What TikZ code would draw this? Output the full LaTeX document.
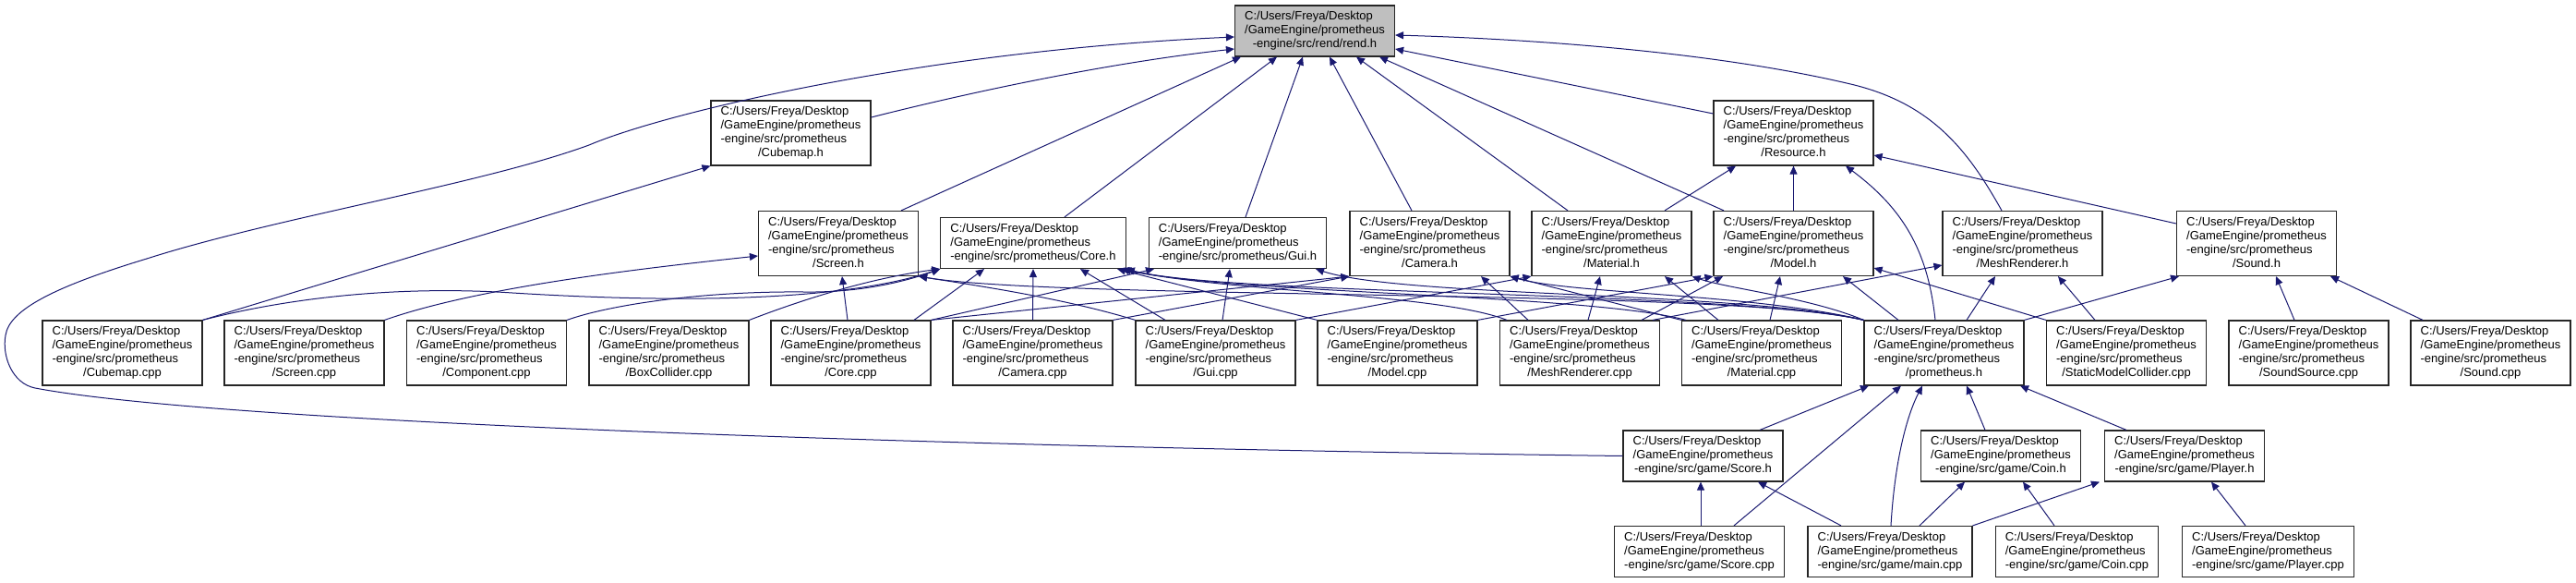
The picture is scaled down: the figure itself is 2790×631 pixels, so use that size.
\documentclass[tikz,border=0pt]{standalone}
\usepackage{fontspec}
\setmainfont{Liberation Sans}
\usetikzlibrary{arrows.meta}
\definecolor{edgeblue}{HTML}{191970}
\definecolor{rendgray}{HTML}{BFBFBF}
\newcommand{\pfour}[1]{\begin{tabular}{@{}l@{}}C:/Users/Freya/Desktop\\/GameEngine/prometheus\\-engine/src/prometheus\\\multicolumn{1}{@{}c@{}}{/#1}\end{tabular}}
\newcommand{\pthree}[1]{\begin{tabular}{@{}l@{}}C:/Users/Freya/Desktop\\/GameEngine/prometheus\\\multicolumn{1}{@{}c@{}}{-engine/src/#1}\end{tabular}}
\tikzset{
  filebox/.style={draw=black!85, line width=0.6pt, fill=white, inner xsep=5.3pt, inner ysep=2.5pt,
    font=\fontsize{6.5}{7.5}\selectfont},
  lnk/.style={draw=edgeblue, line width=0.5pt, -{Triangle[length=4.5pt,width=4pt]}}
}
\begin{document}
\begin{tikzpicture}[x=0.5pt, y=-0.5pt]
\useasboundingbox (0,0) rectangle (2790,631);
% row 1-2
\node[filebox, fill=rendgray] (rend) at (1424,33.5) {\pthree{rend/rend.h}};
\node[filebox] (cubeh) at (856.5,144) {\pfour{Cubemap.h}};
\node[filebox] (resh) at (1942.5,144) {\pfour{Resource.h}};
% row 3
\node[filebox] (screenh) at (908,263.5) {\pfour{Screen.h}};
\node[filebox] (coreh) at (1119,263) {\pthree{prometheus/Core.h}};
\node[filebox] (guih) at (1340.5,263) {\pthree{prometheus/Gui.h}};
\node[filebox] (camh) at (1548.5,263.5) {\pfour{Camera.h}};
\node[filebox] (matH) at (1745.5,263.5) {\pfour{Material.h}};
\node[filebox] (modh) at (1942.5,263.5) {\pfour{Model.h}};
\node[filebox] (meshh) at (2190.5,263.5) {\pfour{MeshRenderer.h}};
\node[filebox] (soundh) at (2444,263.5) {\pfour{Sound.h}};
% row 4
\node[filebox] (cubecpp) at (132.5,382) {\pfour{Cubemap.cpp}};
\node[filebox] (screencpp) at (329.5,382) {\pfour{Screen.cpp}};
\node[filebox] (compcpp) at (527,382) {\pfour{Component.cpp}};
\node[filebox] (boxcpp) at (724.5,382) {\pfour{BoxCollider.cpp}};
\node[filebox] (corecpp) at (921.5,382) {\pfour{Core.cpp}};
\node[filebox] (camcpp) at (1118.5,382) {\pfour{Camera.cpp}};
\node[filebox] (guicpp) at (1316.5,382) {\pfour{Gui.cpp}};
\node[filebox] (modcpp) at (1513.5,382) {\pfour{Model.cpp}};
\node[filebox] (meshcpp) at (1711,382) {\pfour{MeshRenderer.cpp}};
\node[filebox] (matcpp) at (1908,382) {\pfour{Material.cpp}};
\node[filebox] (promh) at (2105.5,382) {\pfour{prometheus.h}};
\node[filebox] (smccpp) at (2303,382) {\pfour{StaticModelCollider.cpp}};
\node[filebox] (sscpp) at (2500.5,382) {\pfour{SoundSource.cpp}};
\node[filebox] (soundcpp) at (2697.5,382) {\pfour{Sound.cpp}};
% row 5
\node[filebox] (scoreh) at (1844.5,493.5) {\pthree{game/Score.h}};
\node[filebox] (coinh) at (2167,493.5) {\pthree{game/Coin.h}};
\node[filebox] (playerh) at (2366,493.5) {\pthree{game/Player.h}};
% row 6
\node[filebox] (scorecpp) at (1840.5,597) {\pthree{game/Score.cpp}};
\node[filebox] (maincpp) at (2047,597) {\pthree{game/main.cpp}};
\node[filebox] (coincpp) at (2249.5,597) {\pthree{game/Coin.cpp}};
\node[filebox] (playercpp) at (2456.5,597) {\pthree{game/Player.cpp}};

% ---- edges into rend.h
\draw[lnk] (scoreh.west) .. controls (1100,485) and (250,460) .. (38,420)
  .. controls (13,415) and (2,385) .. (6,363)
  .. controls (10,335) and (60,310) .. (159,280)
  .. controls (300,235) and (520,200) .. (638,157)
  .. controls (720,122) and (1000,55) .. (rend.west |- 0,40);
\draw[lnk] (cubeh.east |- 0,127) .. controls (1050,100) and (1200,68) .. (rend.west |- 0,53);
\draw[lnk] (screenh.north -| 976,0) -- (rend.south -| 1344,0);
\draw[lnk] (coreh.north -| 1153,0) -- (rend.south -| 1383,0);
\draw[lnk] (guih.north -| 1349,0) -- (rend.south -| 1411,0);
\draw[lnk] (camh.north -| 1529,0) -- (rend.south -| 1440,0);
\draw[lnk] (matH.north -| 1698,0) -- (rend.south -| 1469,0);
\draw[lnk] (modh.north -| 1867,0) -- (rend.south -| 1494,0);
\draw[lnk] (resh.west |- 0,123) -- (rend.east |- 0,53);
\draw[lnk] (meshh.north -| 2168,0) .. controls (2130,160) and (2090,110) .. (2000,90)
  .. controls (1850,55) and (1650,42) .. (rend.east |- 0,38);
% ---- Resource.h
\draw[lnk] (matH.north -| 1803,0) -- (resh.south -| 1880,0);
\draw[lnk] (modh.north) -- (resh.south);
\draw[lnk] (promh.north -| 2096,0) .. controls (2088,270) and (2060,225) .. (resh.south -| 1999,0);
\draw[lnk] (soundh.west |- 0,242) -- (resh.east |- 0,168);
% ---- Cubemap.h / Screen.h
\draw[lnk] (cubecpp.north east) -- (cubeh.south west);
\draw[lnk] (screencpp.north east) .. controls (520,310) and (700,290) .. (screenh.west |- 0,277);
\draw[lnk] (corecpp.north -| 918,0) -- (screenh.south -| 912,0);
\draw[lnk] (guicpp.north west) .. controls (1150,322) and (1050,308) .. (screenh.south east);
\draw[lnk] (promh.north west) .. controls (1880,312) and (1150,325) .. (screenh.south east);
% ---- Core.h
\draw[lnk] (cubecpp.north east) .. controls (330,318) and (450,310) .. (555,317)
  .. controls (700,326) and (900,330) .. (coreh.south west);
\draw[lnk] (compcpp.north east) .. controls (660,330) and (760,315) .. (870,316)
  .. controls (930,317) and (980,305) .. (coreh.south west);
\draw[lnk] (boxcpp.north east) .. controls (880,320) and (950,300) .. (coreh.south west);
\draw[lnk] (corecpp.north -| 990,0) -- (coreh.south -| 1066,0);
\draw[lnk] (camcpp.north) -- (coreh.south);
\draw[lnk] (guicpp.north -| 1262,0) -- (coreh.south -| 1170,0);
\draw[lnk] (modcpp.north west) -- (coreh.south -| 1210,0);
\draw[lnk] (meshcpp.north -| 1632,0) .. controls (1560,318) and (1330,316) .. (coreh.south -| 1214,0);
\draw[lnk] (matcpp.north -| 1826,0) .. controls (1720,318) and (1330,318) .. (coreh.south -| 1216,0);
\draw[lnk] (promh.north west) .. controls (1880,315) and (1330,320) .. (coreh.south east);
% ---- Gui.h
\draw[lnk] (corecpp.north east) -- (guih.south -| 1250,0);
\draw[lnk] (guicpp.north -| 1324,0) -- (guih.south -| 1332,0);
\draw[lnk] (promh.north west) .. controls (1880,315) and (1520,322) .. (guih.south -| 1425,0);
% ---- Camera.h
\draw[lnk] (corecpp.north east) -- (camh.south west);
\draw[lnk] (camcpp.north east) -- (camh.south west);
\draw[lnk] (meshcpp.north -| 1655,0) -- (camh.south -| 1604,0);
\draw[lnk] (matcpp.north west) -- (camh.south east);
\draw[lnk] (promh.north west) .. controls (1900,318) and (1700,318) .. (camh.south east);
% ---- Material.h
\draw[lnk] (guicpp.north east) -- (matH.south west);
\draw[lnk] (meshcpp.north -| 1720,0) -- (matH.south -| 1733,0);
\draw[lnk] (matcpp.north -| 1861,0) -- (matH.south -| 1803,0);
\draw[lnk] (promh.north west) .. controls (1960,322) and (1870,312) .. (matH.south east);
% ---- Model.h
\draw[lnk] (modcpp.north east) -- (modh.south west);
\draw[lnk] (meshcpp.north -| 1778,0) -- (modh.south -| 1866,0);
\draw[lnk] (matcpp.north -| 1917,0) -- (modh.south -| 1928,0);
\draw[lnk] (promh.north -| 2056,0) -- (modh.south -| 1996,0);
\draw[lnk] (smccpp.north west) -- (modh.east |- 0,290);
% ---- MeshRenderer.h
\draw[lnk] (meshcpp.north -| 1790,0) -- (meshh.west |- 0,287);
\draw[lnk] (promh.north -| 2130,0) -- (meshh.south -| 2161,0);
\draw[lnk] (smccpp.north -| 2269,0) -- (meshh.south -| 2229,0);
% ---- Sound.h
\draw[lnk] (promh.north east) -- (soundh.south -| 2360,0);
\draw[lnk] (sscpp.north -| 2485,0) -- (soundh.south -| 2465,0);
\draw[lnk] (soundcpp.north -| 2624,0) -- (soundh.south -| 2524,0);
% ---- prometheus.h
\draw[lnk] (scoreh.north -| 1906,0) -- (promh.south -| 2024,0);
\draw[lnk] (scorecpp.north -| 1878,0) -- (promh.south -| 2059,0);
\draw[lnk] (maincpp.north -| 2048,0) .. controls (2052,500) and (2065,450) .. (promh.south -| 2082,0);
\draw[lnk] (coinh.north -| 2150,0) -- (promh.south -| 2130,0);
\draw[lnk] (playerh.north -| 2303,0) -- (promh.south -| 2188,0);
% ---- game headers
\draw[lnk] (scorecpp.north -| 1842,0) -- (scoreh.south -| 1842,0);
\draw[lnk] (maincpp.north -| 1994,0) -- (scoreh.south -| 1904,0);
\draw[lnk] (maincpp.north -| 2079,0) -- (coinh.south -| 2128,0);
\draw[lnk] (coincpp.north -| 2225,0) -- (coinh.south -| 2191,0);
\draw[lnk] (maincpp.north east) -- (playerh.south -| 2274,0);
\draw[lnk] (playercpp.north -| 2432,0) -- (playerh.south -| 2395,0);
\end{tikzpicture}
\end{document}
